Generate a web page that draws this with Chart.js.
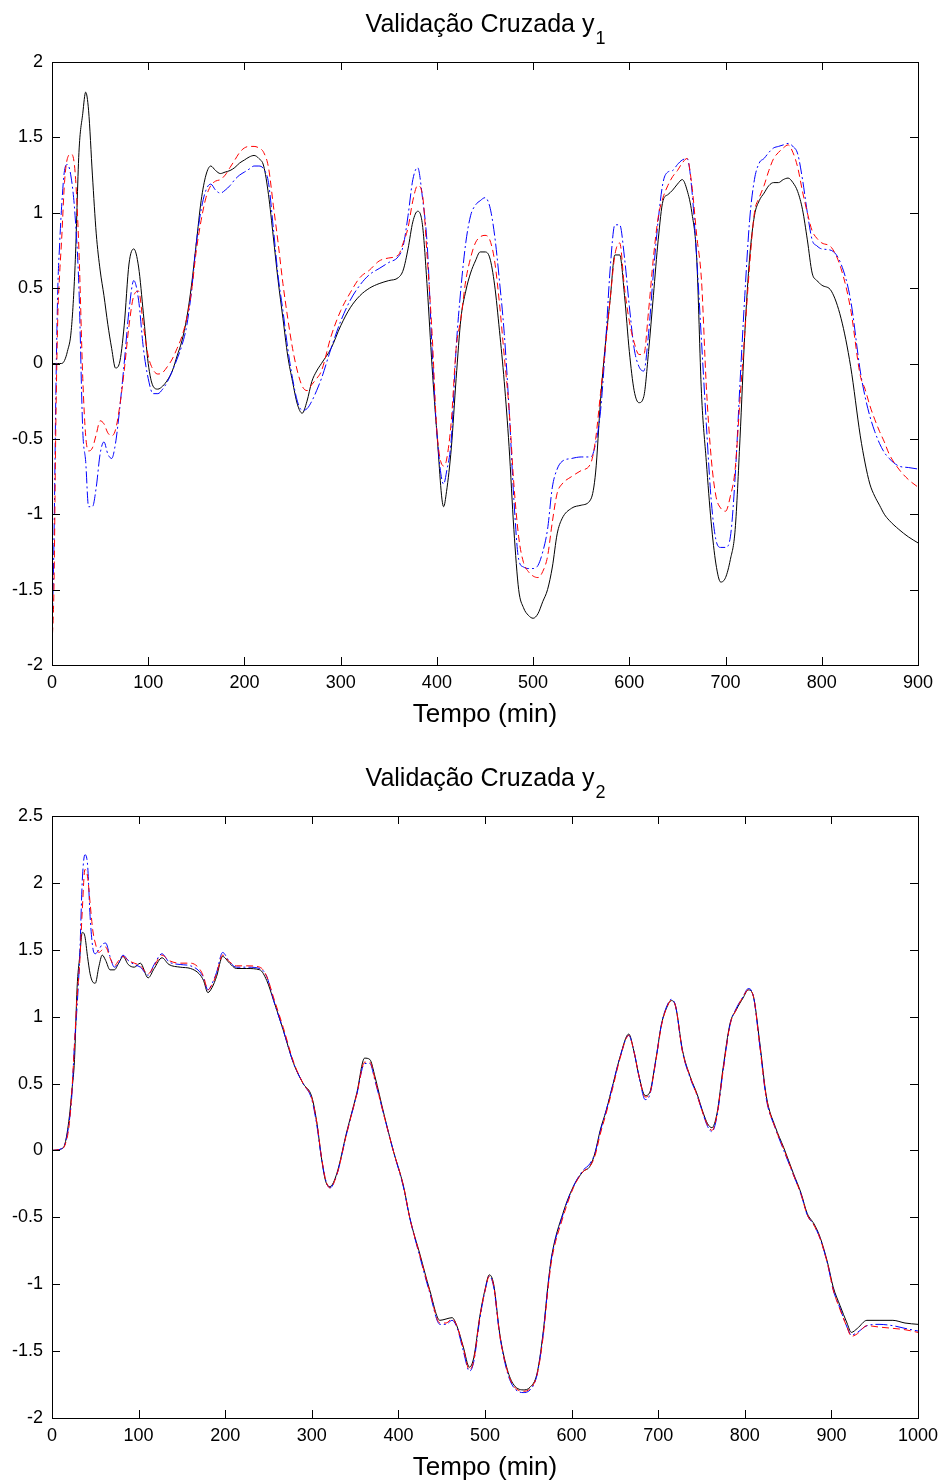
<!DOCTYPE html>
<html>
<head>
<meta charset="utf-8">
<script src="https://cdn.jsdelivr.net/npm/chart.js@4.4.1/dist/chart.umd.min.js"></script>
<style>
  html, body { margin: 0; padding: 0; background: #fff; overflow: hidden; }
  canvas { display: block; }
</style>
</head>
<body>
<canvas id="chartY1" width="941" height="754"></canvas>
<canvas id="chartY2" width="941" height="727"></canvas>
<script>
// ---- y1 : time (min) and the three curves ----
const timeY1 = [
  0, 2, 4, 6, 8, 10, 13, 16, 20, 24,
  28, 32, 35, 38, 42, 46, 50, 54, 58, 62,
  66, 70, 75, 80, 85, 90, 95, 100, 105, 110,
  115, 120, 125, 130, 135, 140, 145, 150, 155, 160,
  165, 170, 175, 180, 185, 190, 195, 200, 205, 210,
  215, 220, 225, 230, 235, 240, 245, 250, 255, 260,
  265, 270, 275, 280, 290, 300, 310, 320, 330, 340,
  350, 360, 365, 370, 375, 380, 385, 390, 395, 400,
  407, 410, 415, 420, 425, 430, 435, 440, 445, 450,
  455, 460, 465, 470, 475, 480, 485, 490, 495, 500,
  505, 510, 515, 520, 525, 530, 540, 550, 560, 565,
  570, 575, 580, 585, 590, 595, 600, 605, 610, 615,
  620, 625, 630, 635, 640, 645, 650, 655, 660, 665,
  670, 675, 680, 685, 690, 695, 700, 705, 710, 715,
  720, 725, 730, 735, 740, 745, 750, 755, 760, 765,
  770, 775, 780, 785, 790, 795, 800, 810, 820, 830,
  840, 845, 850, 855, 860, 865, 870, 880, 890, 900
];
const measuredY1 = [
  0, 0, 0, 0, 0, 0, 0.02, 0.08, 0.22, 0.65,
  1.4, 1.66, 1.8, 1.68, 1.25, 0.86, 0.62, 0.45, 0.26, 0.1,
  -0.03, 0.0, 0.25, 0.66, 0.76, 0.64, 0.33, 0.0, -0.15, -0.17,
  -0.15, -0.11, -0.05, 0.05, 0.15, 0.3, 0.52, 0.8, 1.08, 1.25,
  1.31, 1.28, 1.26, 1.27, 1.28, 1.3, 1.33, 1.35, 1.37, 1.38,
  1.36, 1.31, 1.12, 0.84, 0.55, 0.3, 0.05, -0.12, -0.27, -0.33,
  -0.25, -0.12, -0.05, 0.0, 0.1, 0.25, 0.37, 0.45, 0.5, 0.53,
  0.55, 0.57, 0.62, 0.76, 0.94, 1.01, 0.92, 0.5, -0.02, -0.46,
  -0.95, -0.85, -0.56, -0.1, 0.3, 0.48, 0.6, 0.68, 0.74, 0.74,
  0.7, 0.52, 0.22, -0.12, -0.55, -1.1, -1.5, -1.62, -1.67, -1.69,
  -1.66, -1.58, -1.5, -1.35, -1.13, -1.03, -0.96, -0.94, -0.9, -0.72,
  -0.25, 0.12, 0.42, 0.72, 0.72, 0.45, 0.08, -0.18, -0.26, -0.22,
  0.08, 0.45, 0.82, 1.08, 1.12, 1.15, 1.19, 1.22, 1.15, 1.0,
  0.7, -0.2, -0.65, -1.05, -1.33, -1.45, -1.42, -1.3, -1.1, -0.5,
  0.2, 0.7, 0.98, 1.08, 1.13, 1.18, 1.2, 1.2, 1.22, 1.23,
  1.2, 1.14, 1.02, 0.82, 0.6, 0.55, 0.52, 0.48, 0.3, -0.02,
  -0.48, -0.66, -0.8, -0.88, -0.94, -1.0, -1.04, -1.1, -1.15, -1.19
];
const model1Y1 = [
  -1.8, -1.2, -0.2, 0.49, 0.8, 1.04, 1.28, 1.32, 1.23, 0.98,
  0.5, -0.45, -0.65, -0.95, -0.95, -0.82, -0.6, -0.52, -0.6, -0.63,
  -0.53, -0.32, 0.0, 0.35, 0.55, 0.42, 0.1, -0.1, -0.2, -0.2,
  -0.17, -0.12, -0.05, 0.03, 0.12, 0.25, 0.48, 0.8, 1.02, 1.15,
  1.19, 1.15, 1.13, 1.15, 1.18, 1.22, 1.25, 1.27, 1.29, 1.31,
  1.31, 1.29, 1.2, 0.9, 0.58, 0.35, 0.1, -0.1, -0.25, -0.31,
  -0.3, -0.25, -0.18, -0.1, 0.1, 0.28, 0.42, 0.52, 0.59, 0.63,
  0.67, 0.71, 0.78, 0.98, 1.22, 1.3, 1.1, 0.78, 0.1, -0.46,
  -0.8, -0.72, -0.5, 0.1, 0.5, 0.8, 0.98, 1.05, 1.08, 1.1,
  1.04, 0.85, 0.55, 0.2, -0.3, -0.9, -1.3, -1.35, -1.36, -1.36,
  -1.34, -1.25, -1.1, -0.82, -0.7, -0.65, -0.63, -0.62, -0.62, -0.53,
  -0.32, 0.1, 0.62, 0.92, 0.92, 0.7, 0.38, 0.1, -0.02, -0.05,
  0.2, 0.6, 0.95, 1.2, 1.27, 1.28, 1.32, 1.35, 1.36, 1.15,
  0.7, 0.15, -0.4, -0.9, -1.17, -1.22, -1.22, -1.15, -0.75, -0.13,
  0.45, 0.95, 1.22, 1.33, 1.36, 1.4, 1.43, 1.44, 1.45, 1.46,
  1.44, 1.39, 1.22, 1.0, 0.82, 0.78, 0.76, 0.75, 0.66, 0.42,
  -0.05, -0.22, -0.35, -0.45, -0.53, -0.59, -0.63, -0.68, -0.69, -0.7
];
const model2Y1 = [
  -1.87, -1.5, -0.4, 0.3, 0.6, 0.82, 1.2, 1.36, 1.39, 1.27,
  0.75, -0.1, -0.48, -0.58, -0.56, -0.47, -0.38, -0.4, -0.46, -0.48,
  -0.44, -0.3, -0.05, 0.25, 0.45, 0.48, 0.25, 0.05, -0.04, -0.07,
  -0.06, -0.02, 0.03, 0.1, 0.18, 0.3, 0.48, 0.75, 0.95, 1.1,
  1.18, 1.21, 1.22, 1.25, 1.3, 1.35, 1.4, 1.43, 1.44, 1.44,
  1.43, 1.4, 1.3, 1.05, 0.8, 0.53, 0.3, 0.1, -0.05, -0.15,
  -0.18, -0.14, -0.1, -0.05, 0.18, 0.35, 0.47, 0.57, 0.62, 0.68,
  0.7, 0.72, 0.8, 0.9, 1.08, 1.18, 1.12, 0.7, 0.2, -0.45,
  -0.68, -0.64, -0.38, 0.1, 0.3, 0.55, 0.7, 0.8, 0.84, 0.85,
  0.82, 0.68, 0.4, 0.05, -0.3, -0.8, -1.15, -1.32, -1.38, -1.41,
  -1.42, -1.38, -1.28, -1.05, -0.86, -0.8, -0.75, -0.71, -0.66, -0.5,
  -0.2, 0.1, 0.42, 0.72, 0.8, 0.5, 0.28, 0.14, 0.06, 0.06,
  0.35, 0.7, 0.97, 1.1, 1.18, 1.24, 1.28, 1.33, 1.36, 1.18,
  0.85, 0.55, -0.15, -0.62, -0.88, -0.96, -0.98, -0.88, -0.7, -0.24,
  0.2, 0.65, 1.0, 1.1, 1.18, 1.28, 1.36, 1.4, 1.43, 1.45,
  1.4, 1.3, 1.14, 1.0, 0.88, 0.83, 0.8, 0.77, 0.63, 0.36,
  -0.08, -0.17, -0.28, -0.37, -0.45, -0.52, -0.6, -0.7, -0.77, -0.82
];

// ---- y2 : time (min) and the three curves ----
const timeY2 = [
  0, 10, 15, 20, 23, 26, 29, 32, 35, 38,
  41, 44, 47, 50, 54, 58, 62, 67, 72, 77,
  82, 88, 95, 102, 111, 118, 127, 135, 148, 160,
  170, 175, 180, 185, 190, 197, 205, 213, 225, 240,
  248, 256, 267, 279, 290, 300, 306, 311, 316, 321,
  329, 340, 352, 361, 367, 373, 383, 394, 406, 413,
  425, 436, 448, 455, 462, 468, 475, 482, 487, 494,
  500, 505, 510, 517, 525, 532, 544, 552, 560, 567,
  573, 577, 590, 602, 613, 621, 627, 633, 640, 648,
  656, 666, 672, 678, 685, 690, 697, 704, 710, 715,
  720, 728, 737, 745, 752, 757, 762, 768, 775, 783,
  790, 798, 804, 810, 817, 825, 835, 845, 856, 865,
  872, 880, 887, 896, 902, 910, 918, 923, 930, 941,
  955, 971, 985, 1000
];
const measuredY2 = [
  0, 0.01, 0.05, 0.25, 0.45, 0.68, 1.22, 1.45, 1.63, 1.6,
  1.45, 1.32, 1.26, 1.25, 1.37, 1.46, 1.42, 1.35, 1.35, 1.4,
  1.45, 1.39, 1.37, 1.4, 1.29, 1.36, 1.44, 1.39, 1.37, 1.36,
  1.32, 1.27, 1.18, 1.22, 1.3, 1.45, 1.4, 1.36, 1.36, 1.35,
  1.27, 1.12, 0.9, 0.65, 0.5, 0.4, 0.2, -0.05, -0.23, -0.27,
  -0.17, 0.13, 0.43, 0.69, 0.68, 0.55, 0.28, 0.0, -0.27, -0.5,
  -0.78, -1.04, -1.27, -1.26, -1.25, -1.32, -1.47, -1.62, -1.55, -1.24,
  -1.04, -0.93, -1.0, -1.37, -1.62, -1.74, -1.79, -1.77, -1.67, -1.37,
  -0.99, -0.79, -0.47, -0.27, -0.16, -0.12, -0.02, 0.15, 0.3, 0.5,
  0.7, 0.87, 0.74, 0.55, 0.41, 0.43, 0.67, 0.95, 1.07, 1.12,
  1.08, 0.75, 0.55, 0.42, 0.28, 0.2, 0.17, 0.28, 0.62, 0.95,
  1.05, 1.14, 1.2, 1.15, 0.82, 0.4, 0.18, 0.02, -0.17, -0.32,
  -0.47, -0.55, -0.65, -0.85, -1.02, -1.16, -1.29, -1.36, -1.33, -1.27,
  -1.27, -1.27, -1.29, -1.3
];
const model1Y2 = [
  0, 0.01, 0.05, 0.22, 0.42, 0.8, 1.08, 1.45, 2.02, 2.21,
  2.14, 1.75, 1.52, 1.47, 1.5, 1.54, 1.55, 1.45, 1.37, 1.4,
  1.46, 1.42, 1.39, 1.37, 1.31, 1.39, 1.47, 1.41, 1.39, 1.38,
  1.34, 1.29, 1.2, 1.25, 1.33, 1.48, 1.41, 1.37, 1.37, 1.36,
  1.3, 1.12, 0.9, 0.65, 0.5, 0.38, 0.18, -0.05, -0.22, -0.28,
  -0.18, 0.12, 0.42, 0.65, 0.65, 0.52, 0.27, 0.0, -0.28, -0.5,
  -0.8, -1.06, -1.3, -1.3, -1.27, -1.33, -1.5, -1.65, -1.58, -1.26,
  -1.05, -0.94, -1.02, -1.38, -1.64, -1.76, -1.81, -1.79, -1.68, -1.38,
  -1.0, -0.8, -0.48, -0.27, -0.15, -0.1, -0.02, 0.14, 0.3, 0.5,
  0.7, 0.86, 0.74, 0.55, 0.38, 0.41, 0.66, 0.95, 1.08, 1.13,
  1.08, 0.74, 0.54, 0.41, 0.27, 0.18, 0.14, 0.26, 0.6, 0.94,
  1.06, 1.15, 1.21, 1.15, 0.8, 0.38, 0.17, 0.0, -0.18, -0.33,
  -0.48, -0.56, -0.66, -0.86, -1.04, -1.18, -1.32, -1.38, -1.36, -1.31,
  -1.3, -1.31, -1.33, -1.35
];
const model2Y2 = [
  0, 0.01, 0.04, 0.2, 0.45, 0.8, 1.15, 1.4, 1.8, 2.1,
  2.05, 1.85, 1.65, 1.55, 1.48, 1.5, 1.52, 1.44, 1.38, 1.42,
  1.45, 1.42, 1.4, 1.38, 1.32, 1.38, 1.46, 1.42, 1.4, 1.4,
  1.36, 1.3, 1.2, 1.24, 1.32, 1.46, 1.41, 1.38, 1.38, 1.37,
  1.3, 1.14, 0.92, 0.66, 0.5, 0.39, 0.2, -0.04, -0.22, -0.28,
  -0.18, 0.12, 0.42, 0.66, 0.66, 0.53, 0.27, 0.0, -0.27, -0.5,
  -0.79, -1.05, -1.29, -1.29, -1.26, -1.32, -1.48, -1.64, -1.57, -1.25,
  -1.05, -0.94, -1.01, -1.38, -1.63, -1.75, -1.8, -1.78, -1.68, -1.4,
  -1.02, -0.82, -0.5, -0.28, -0.16, -0.12, -0.04, 0.12, 0.28, 0.48,
  0.69, 0.86, 0.74, 0.55, 0.4, 0.42, 0.66, 0.94, 1.07, 1.12,
  1.08, 0.74, 0.55, 0.41, 0.27, 0.19, 0.15, 0.27, 0.6, 0.94,
  1.05, 1.15, 1.2, 1.15, 0.8, 0.39, 0.17, 0.01, -0.18, -0.33,
  -0.48, -0.56, -0.66, -0.86, -1.04, -1.19, -1.32, -1.39, -1.37, -1.31,
  -1.32, -1.33, -1.34, -1.36
];

const FONT = 'Arial, "Liberation Sans", sans-serif';

// MATLAB-like frame: box, inward ticks on all sides, title with subscript, x label
const matlabFrame = {
  id: 'matlabFrame',
  afterDraw(chart, args, opts) {
    const { ctx, chartArea: a, scales } = chart;
    const tick = 8;
    ctx.save();
    ctx.strokeStyle = '#000';
    ctx.lineWidth = 1;
    ctx.beginPath();
    scales.x.ticks.forEach(t => {
      const px = Math.round(scales.x.getPixelForValue(t.value)) + 0.5;
      ctx.moveTo(px, a.bottom); ctx.lineTo(px, a.bottom - tick);
      ctx.moveTo(px, a.top); ctx.lineTo(px, a.top + tick);
    });
    scales.y.ticks.forEach(t => {
      const py = Math.round(scales.y.getPixelForValue(t.value)) + 0.5;
      ctx.moveTo(a.left, py); ctx.lineTo(a.left + tick, py);
      ctx.moveTo(a.right, py); ctx.lineTo(a.right - tick, py);
    });
    ctx.stroke();
    ctx.strokeRect(Math.round(a.left) + 0.5, Math.round(a.top) + 0.5,
                   Math.round(a.right - a.left), Math.round(a.bottom - a.top));

    // title with subscript
    const cx = (a.left + a.right) / 2;
    ctx.fillStyle = '#000';
    ctx.textBaseline = 'alphabetic';
    ctx.textAlign = 'left';
    ctx.font = '25px ' + FONT;
    const w1 = ctx.measureText(opts.title).width;
    ctx.font = '18px ' + FONT;
    const w2 = ctx.measureText(opts.sub).width;
    const x0 = cx - (w1 + w2) / 2;
    ctx.font = '25px ' + FONT;
    ctx.fillText(opts.title, x0, a.top - 30);
    ctx.font = '18px ' + FONT;
    ctx.fillText(opts.sub, x0 + w1 + 1, a.top - 18);

    // x axis label
    ctx.font = '26px ' + FONT;
    ctx.textAlign = 'center';
    ctx.fillText(opts.xlabel, cx, a.bottom + 57);
    ctx.restore();
  }
};

function makeDataset(label, times, values, color, dash, order) {
  return {
    label: label,
    data: times.map((t, i) => ({ x: t, y: values[i] })),
    borderColor: color,
    borderWidth: 1,
    borderDash: dash,
    pointRadius: 0,
    fill: false,
    cubicInterpolationMode: 'monotone',
    order: order
  };
}

function makeChart(canvasId, times, measured, model1, model2, xMax, yMin, yMax, xAxisHeight, sub) {
  const ctx = document.getElementById(canvasId).getContext('2d');
  return new Chart(ctx, {
    type: 'line',
    data: {
      datasets: [
        makeDataset('medido', times, measured, '#000000', [], 3),
        makeDataset('modelo 1', times, model1, '#0000ff', [12, 3, 2, 3], 2),
        makeDataset('modelo 2', times, model2, '#ff0000', [7, 4], 1)
      ]
    },
    options: {
      responsive: false,
      animation: false,
      layout: { padding: { top: 62, right: 23, left: 0, bottom: 0 } },
      plugins: {
        legend: { display: false },
        tooltip: { enabled: false },
        matlabFrame: { title: 'Validação Cruzada y', sub: sub, xlabel: 'Tempo (min)' }
      },
      scales: {
        x: {
          type: 'linear',
          min: 0,
          max: xMax,
          grid: { display: false, drawTicks: false },
          border: { display: false },
          ticks: {
            stepSize: 100,
            autoSkip: false,
            maxRotation: 0,
            padding: 7,
            color: '#000',
            font: { family: FONT, size: 18 },
            callback: v => String(v)
          },
          afterFit: scale => {
            scale.height = xAxisHeight;
            scale.paddingLeft = 0;
            scale.paddingRight = 0;
          }
        },
        y: {
          min: yMin,
          max: yMax,
          grid: { display: false, drawTicks: false },
          border: { display: false },
          ticks: {
            stepSize: 0.5,
            autoSkip: false,
            padding: 9,
            color: '#000',
            font: { family: FONT, size: 18 },
            callback: v => String(v)
          },
          afterFit: scale => {
            scale.width = 52;
            scale.paddingTop = 0;
            scale.paddingBottom = 0;
          }
        }
      }
    },
    plugins: [matlabFrame]
  });
}

makeChart('chartY1', timeY1, measuredY1, model1Y1, model2Y1, 900, -2, 2, 89, '1');
makeChart('chartY2', timeY2, measuredY2, model1Y2, model2Y2, 1000, -2, 2.5, 63, '2');
</script>
</body>
</html>
